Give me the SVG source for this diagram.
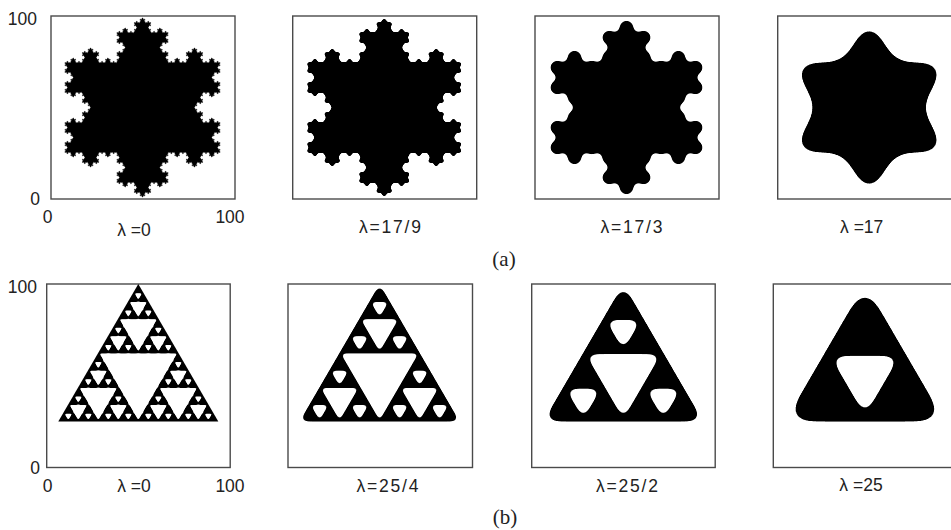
<svg xmlns="http://www.w3.org/2000/svg" width="951" height="530" viewBox="0 0 951 530">
<style>
.box{fill:none;stroke:#4a4a4a;stroke-width:1.4}
.ax{font-family:"Liberation Sans",Arial,sans-serif;font-size:17.5px;fill:#222}
.lam{font-family:"Liberation Sans",Arial,sans-serif;font-size:17.5px;fill:#222;text-anchor:middle}
.cap{font-family:"Liberation Serif","Times New Roman",serif;font-size:21px;fill:#222;text-anchor:middle}
.hole{fill:#fff}
.blk{fill:#000}
</style>
<defs>
<polygon id="kt" points="0.333333,0 0.5,-0.288675 0.666667,0 0.5,0.1"/>
<g id="K1"><use href="#kt"/><use href="#kt" transform="scale(0.333333)"/><use href="#kt" transform="translate(0.333333,0) rotate(-60) scale(0.333333)"/><use href="#kt" transform="translate(0.5,-0.288675) rotate(60) scale(0.333333)"/><use href="#kt" transform="translate(0.666667,0) scale(0.333333)"/></g>
<g id="K2"><use href="#kt"/><use href="#K1" transform="scale(0.333333)"/><use href="#K1" transform="translate(0.333333,0) rotate(-60) scale(0.333333)"/><use href="#K1" transform="translate(0.5,-0.288675) rotate(60) scale(0.333333)"/><use href="#K1" transform="translate(0.666667,0) scale(0.333333)"/></g>
<g id="K3"><use href="#kt"/><use href="#K2" transform="scale(0.333333)"/><use href="#K2" transform="translate(0.333333,0) rotate(-60) scale(0.333333)"/><use href="#K2" transform="translate(0.5,-0.288675) rotate(60) scale(0.333333)"/><use href="#K2" transform="translate(0.666667,0) scale(0.333333)"/></g>
<g id="K4"><use href="#kt"/><use href="#K3" transform="scale(0.333333)"/><use href="#K3" transform="translate(0.333333,0) rotate(-60) scale(0.333333)"/><use href="#K3" transform="translate(0.5,-0.288675) rotate(60) scale(0.333333)"/><use href="#K3" transform="translate(0.666667,0) scale(0.333333)"/></g>
<polygon id="tri0" points="0,-90 77.942,45 -77.942,45"/>
<g id="snow5" class="blk"><use href="#tri0"/><use href="#K4" transform="translate(0,-90) rotate(60) scale(155.885)"/><use href="#K4" transform="translate(77.942,45) rotate(180) scale(155.885)"/><use href="#K4" transform="translate(-77.942,45) rotate(-60) scale(155.885)"/></g>
<g id="snow4" class="blk"><use href="#tri0"/><use href="#K3" transform="translate(0,-90) rotate(60) scale(155.885)"/><use href="#K3" transform="translate(77.942,45) rotate(180) scale(155.885)"/><use href="#K3" transform="translate(-77.942,45) rotate(-60) scale(155.885)"/></g>
<g id="snow3" class="blk"><use href="#tri0"/><use href="#K2" transform="translate(0,-90) rotate(60) scale(155.885)"/><use href="#K2" transform="translate(77.942,45) rotate(180) scale(155.885)"/><use href="#K2" transform="translate(-77.942,45) rotate(-60) scale(155.885)"/></g>
<g id="snow1" class="blk"><use href="#tri0"/><use href="#kt" transform="translate(0,-90) rotate(60) scale(155.885)"/><use href="#kt" transform="translate(77.942,45) rotate(180) scale(155.885)"/><use href="#kt" transform="translate(-77.942,45) rotate(-60) scale(155.885)"/></g>

<polygon id="S0" points="0.5,0 1,1 0,1"/>

<polygon id="H1" points="0.25,0.5 0.75,0.5 0.5,1"/>
<g id="L2"><use href="#H1" transform="translate(0.25,0) scale(0.5)"/><use href="#H1" transform="translate(0,0.5) scale(0.5)"/><use href="#H1" transform="translate(0.5,0.5) scale(0.5)"/></g>
<g id="L3"><use href="#L2" transform="translate(0.25,0) scale(0.5)"/><use href="#L2" transform="translate(0,0.5) scale(0.5)"/><use href="#L2" transform="translate(0.5,0.5) scale(0.5)"/></g>
<g id="L4"><use href="#L3" transform="translate(0.25,0) scale(0.5)"/><use href="#L3" transform="translate(0,0.5) scale(0.5)"/><use href="#L3" transform="translate(0.5,0.5) scale(0.5)"/></g>
<g id="H4"><use href="#H1"/><use href="#L2"/><use href="#L3"/><use href="#L4"/></g>

<filter id="fa2" x="-0.3" y="-0.3" width="1.6" height="1.6" color-interpolation-filters="sRGB"><feGaussianBlur in="SourceAlpha" stdDeviation="1.8"/><feComponentTransfer><feFuncA type="linear" slope="6.5" intercept="-2.75"/></feComponentTransfer></filter>
<filter id="fa3" x="-0.3" y="-0.3" width="1.6" height="1.6" color-interpolation-filters="sRGB"><feGaussianBlur in="SourceAlpha" stdDeviation="3.2"/><feComponentTransfer><feFuncA type="linear" slope="11" intercept="-5"/></feComponentTransfer></filter>
<filter id="fa4" x="-0.3" y="-0.3" width="1.6" height="1.6" color-interpolation-filters="sRGB"><feGaussianBlur in="SourceAlpha" stdDeviation="11"/><feComponentTransfer><feFuncA type="linear" slope="38" intercept="-18.5"/></feComponentTransfer></filter>
<filter id="fb2o" x="-0.3" y="-0.3" width="1.6" height="1.6" color-interpolation-filters="sRGB"><feGaussianBlur in="SourceAlpha" stdDeviation="3.5"/><feComponentTransfer><feFuncA type="linear" slope="12" intercept="-5.5"/></feComponentTransfer></filter>
<filter id="fb3o" x="-0.3" y="-0.3" width="1.6" height="1.6" color-interpolation-filters="sRGB"><feGaussianBlur in="SourceAlpha" stdDeviation="6.5"/><feComponentTransfer><feFuncA type="linear" slope="23" intercept="-11"/></feComponentTransfer></filter>
<filter id="fb4o" x="-0.3" y="-0.3" width="1.6" height="1.6" color-interpolation-filters="sRGB"><feGaussianBlur in="SourceAlpha" stdDeviation="11"/><feComponentTransfer><feFuncA type="linear" slope="38" intercept="-18.5"/></feComponentTransfer></filter>
<filter id="fb1h" x="-0.1" y="-0.1" width="1.2" height="1.2" color-interpolation-filters="sRGB"><feGaussianBlur in="SourceGraphic" stdDeviation="1.2"/><feComponentTransfer><feFuncA type="linear" slope="4.7" intercept="-2.88"/></feComponentTransfer></filter>
<filter id="fb2h" x="-0.3" y="-0.3" width="1.6" height="1.6" color-interpolation-filters="sRGB"><feGaussianBlur in="SourceGraphic" stdDeviation="2.5"/><feComponentTransfer><feFuncA type="linear" slope="8" intercept="-4.3"/></feComponentTransfer></filter>
<filter id="fb3h" x="-0.3" y="-0.3" width="1.6" height="1.6" color-interpolation-filters="sRGB"><feGaussianBlur in="SourceGraphic" stdDeviation="5.5"/><feComponentTransfer><feFuncA type="linear" slope="18" intercept="-10.3"/></feComponentTransfer></filter>
<filter id="fb4h" x="-0.3" y="-0.3" width="1.6" height="1.6" color-interpolation-filters="sRGB"><feGaussianBlur in="SourceGraphic" stdDeviation="8"/><feComponentTransfer><feFuncA type="linear" slope="28" intercept="-17.7"/></feComponentTransfer></filter>
</defs>

<rect width="951" height="530" fill="#fff"/>

<g id="panel-a1">
<rect class="box" x="51" y="16" width="184" height="183"/>
<use href="#snow5" transform="translate(142.5,107.5)"/>
<text class="ax" x="37" y="25" text-anchor="end">100</text>
<text class="ax" x="40" y="205" text-anchor="end">0</text>
<text class="ax" x="47.5" y="223" text-anchor="middle">0</text>
<text class="ax" x="230" y="223" text-anchor="middle">100</text>
<text class="lam" x="134" y="236">λ =0</text>
</g>

<g id="panel-a2">
<rect class="box" x="292.7" y="16" width="184" height="183"/>
<g filter="url(#fa2)"><use href="#snow4" transform="translate(384.2,107.5)"/></g>
<text class="lam" x="390" y="233" textLength="62" lengthAdjust="spacing">λ=17/9</text>
</g>

<g id="panel-a3">
<rect class="box" x="535" y="16" width="184" height="183"/>
<g filter="url(#fa3)"><use href="#snow3" transform="translate(626.5,107.5)"/></g>
<text class="lam" x="631.5" y="233" textLength="62" lengthAdjust="spacing">λ=17/3</text>
</g>

<g id="panel-a4">
<rect class="box" x="777.7" y="16" width="184" height="183"/>
<g filter="url(#fa4)"><use href="#snow1" transform="translate(869.2,107.5)"/></g>
<text class="lam" x="861.7" y="233">λ =17</text>
</g>

<text id="label-a" class="cap" x="504" y="266">(a)</text>

<g id="panel-b1">
<rect class="box" x="46.7" y="284" width="183.5" height="183.5"/>
<use href="#S0" class="blk" transform="translate(58.3,284) scale(160,137.5)"/>
<g filter="url(#fb1h)"><use href="#H4" class="hole" transform="translate(58.3,284) scale(160,137.5)"/></g>
<text class="ax" x="37" y="293" text-anchor="end">100</text>
<text class="ax" x="40" y="474" text-anchor="end">0</text>
<text class="ax" x="47.5" y="492" text-anchor="middle">0</text>
<text class="ax" x="230" y="492" text-anchor="middle">100</text>
<text class="lam" x="134" y="492">λ =0</text>
</g>

<g id="panel-b2">
<rect class="box" x="288" y="284" width="184.5" height="183.5"/>
<g filter="url(#fb2o)"><use href="#S0" class="blk" transform="translate(299.6,284) scale(160,137.5)"/></g>
<g filter="url(#fb2h)"><use href="#H1" class="hole" transform="translate(299.6,284) scale(160,137.5)"/></g>
<g filter="url(#fb2h)"><use href="#L2" class="hole" transform="translate(299.6,284) scale(160,137.5)"/></g>
<g filter="url(#fb2h)"><use href="#L3" class="hole" transform="translate(299.6,284) scale(160,137.5)"/></g>
<text class="lam" x="387.5" y="492" textLength="62" lengthAdjust="spacing">λ=25/4</text>
</g>

<g id="panel-b3">
<rect class="box" x="531.7" y="284" width="183.5" height="183.5"/>
<g filter="url(#fb3o)"><use href="#S0" class="blk" transform="translate(543.3,284) scale(160,137.5)"/></g>
<g filter="url(#fb3h)"><use href="#H1" class="hole" transform="translate(543.3,284) scale(160,137.5)"/></g>
<g filter="url(#fb3h)"><use href="#L2" class="hole" transform="translate(543.3,284) scale(160,137.5)"/></g>
<text class="lam" x="627" y="492" textLength="62" lengthAdjust="spacing">λ=25/2</text>
</g>

<g id="panel-b4">
<rect class="box" x="773.3" y="284" width="184" height="183.5"/>
<g filter="url(#fb4o)"><use href="#S0" class="blk" transform="translate(784.9,284) scale(160,137.5)"/></g>
<g filter="url(#fb4h)"><use href="#H1" class="hole" transform="translate(784.9,284) scale(160,137.5)"/></g>
<text class="lam" x="861" y="491">λ =25</text>
</g>

<text id="label-b" class="cap" x="505" y="524">(b)</text>
</svg>
